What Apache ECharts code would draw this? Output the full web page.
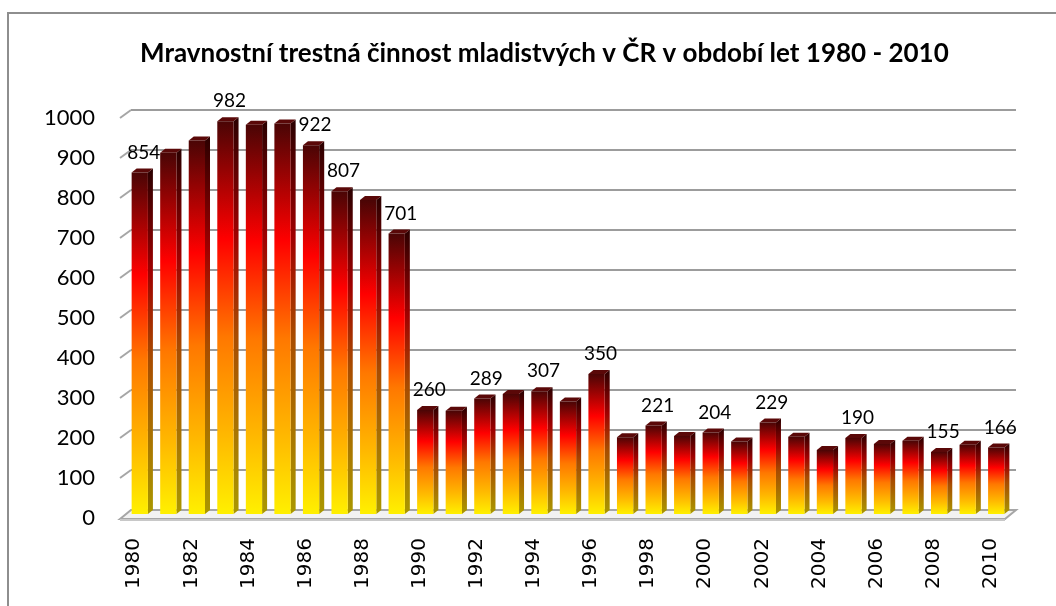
<!DOCTYPE html>
<html>
<head>
<meta charset="utf-8">
<script src="https://cdn.jsdelivr.net/npm/echarts@6/dist/echarts.min.js"></script>
<style>
  html, body { margin: 0; padding: 0; background: #fff; }
  #frame { position: absolute; left: 7px; top: 12px; width: 1100px; height: 700px; border: 2px solid #8e8e8e; }
  #chart { position: absolute; left: 0; top: 0; width: 1056px; height: 606px; }
</style>
</head>
<body>
<div id="frame"></div>
<div id="chart"></div>
<script>
const years = ['1980','1981','1982','1983','1984','1985','1986','1987','1988','1989',
  '1990','1991','1992','1993','1994','1995','1996','1997','1998','1999',
  '2000','2001','2002','2003','2004','2005','2006','2007','2008','2009','2010'];
const values = [854, 903, 934, 982, 973, 976, 922, 807, 785, 701,
  260, 258, 289, 300, 307, 281, 350, 192, 221, 195,
  204, 181, 229, 193, 160, 190, 175, 183, 155, 173, 166];
// roky, u kterých je v originálu vypsaná hodnota
const labelledYears = ['1980','1983','1986','1987','1989','1990','1992','1994','1996',
  '1998','2000','2002','2005','2008','2010'];
const yTicks = [0, 100, 200, 300, 400, 500, 600, 700, 800, 900, 1000];

const chart = echarts.init(document.getElementById('chart'));

// hloubka 3D (zadní stěna posunutá doprava nahoru)
const DEPTH_X = 11, DEPTH_Y = -8;
const SIDE_X = 5, SIDE_Y = -4;
const labelFont = 'Lato, "Open Sans", sans-serif';

function renderWall(params, api) {
  const cs = params.coordSys;
  const v = api.value(1);
  const y = api.coord([0, v])[1];
  const x0 = cs.x, x1 = cs.x + cs.width;
  if (v === 0) {
    return {
      type: 'group',
      children: [
        { type: 'polygon', shape: { points: [[x0, y + 1], [x0 + DEPTH_X, y + DEPTH_Y], [x1 + DEPTH_X, y + DEPTH_Y], [x1, y + 1]] },
          style: { fill: '#f2f2f2', stroke: '#a6a6a6', lineWidth: 2 } },
        { type: 'line', shape: { x1: x0, y1: y + 2, x2: x1, y2: y + 2 }, style: { stroke: '#c8c8c8', lineWidth: 2 } }
      ]
    };
  }
  return {
    type: 'group',
    children: [
      { type: 'line', shape: { x1: x0, y1: y, x2: x0 + DEPTH_X, y2: y + DEPTH_Y }, style: { stroke: '#a6a6a6', lineWidth: 2 } },
      { type: 'line', shape: { x1: x0 + DEPTH_X, y1: y + DEPTH_Y, x2: x1 + DEPTH_X, y2: y + DEPTH_Y }, style: { stroke: '#9c9c9c', lineWidth: 2 } }
    ]
  };
}

function renderBar(params, api) {
  const i = api.value(0), v = api.value(1);
  const base = api.coord([i, 0]);
  const top = api.coord([i, v]);
  const band = api.size([1, 0])[0];
  const w = band * 0.57;
  const cx = base[0] + DEPTH_X / 2;
  const x = cx - w / 2;
  const yb = base[1] + DEPTH_Y / 2;
  const yt = top[1] + DEPTH_Y / 2;
  const front = new echarts.graphic.LinearGradient(0, 0, 0, 1, [
    { offset: 0, color: '#4a0505' },
    { offset: 0.3, color: '#ff0000' },
    { offset: 0.55, color: '#ff7800' },
    { offset: 0.8, color: '#ffb800' },
    { offset: 1, color: '#fff000' }
  ]);
  const side = new echarts.graphic.LinearGradient(0, 0, 0, 1, [
    { offset: 0, color: '#2a0000' },
    { offset: 0.3, color: '#a00000' },
    { offset: 0.55, color: '#a84c00' },
    { offset: 1, color: '#aa9800' }
  ]);
  const children = [
    { type: 'polygon', shape: { points: [[x + w, yt], [x + w + SIDE_X, yt + SIDE_Y], [x + w + SIDE_X, yb + SIDE_Y], [x + w, yb]] },
      style: { fill: side } },
    { type: 'polygon', shape: { points: [[x, yt], [x + SIDE_X, yt + SIDE_Y], [x + w + SIDE_X, yt + SIDE_Y], [x + w, yt]] },
      style: { fill: '#5a0808' } },
    { type: 'rect', shape: { x: x, y: yt, width: w, height: yb - yt }, style: { fill: front } }
  ];
  if (labelledYears.indexOf(years[i]) >= 0) {
    children.push({
      type: 'text',
      x: cx + 4, y: yt - 20,
      style: { text: String(v), fill: '#000', font: '19px ' + labelFont, align: 'center', verticalAlign: 'middle' }
    });
  }
  return { type: 'group', children: children };
}

chart.setOption({
  animation: false,
  backgroundColor: 'transparent',
  title: {
    text: 'Mravnostní trestná činnost mladistvých v ČR v období let 1980 - 2010',
    left: 135,
    top: 36,
    textStyle: { fontFamily: labelFont, fontWeight: 'bold', fontSize: 26, color: '#000' }
  },
  grid: { left: 120, top: 118, width: 885, height: 400 },
  xAxis: {
    type: 'category',
    data: years,
    axisLine: { show: false },
    axisTick: { show: false },
    axisLabel: { rotate: 90, interval: 1, margin: 20, fontFamily: '"DejaVu Sans", sans-serif', fontSize: 20, color: '#000' }
  },
  yAxis: {
    type: 'value',
    min: 0, max: 1000, interval: 100,
    axisLine: { show: false },
    axisTick: { show: false },
    splitLine: { show: false },
    axisLabel: { margin: 25, fontFamily: labelFont, fontSize: 22, color: '#000', formatter: v => String(v) }
  },
  series: [
    {
      type: 'custom',
      renderItem: renderWall,
      data: yTicks.map(t => [0, t]),
      silent: true,
      z: 1
    },
    {
      type: 'custom',
      renderItem: renderBar,
      data: values.map((v, i) => [i, v]),
      z: 2
    }
  ]
});
</script>
</body>
</html>
